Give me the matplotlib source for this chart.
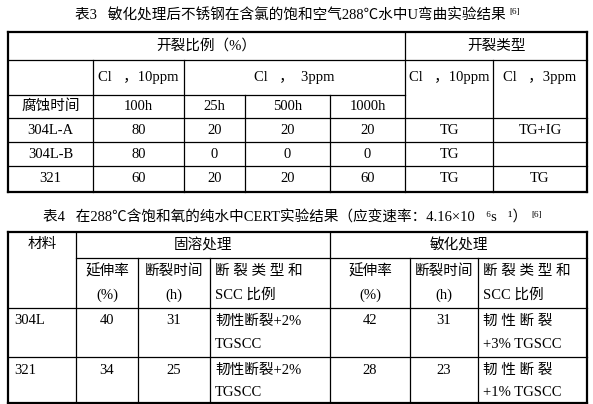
import matplotlib.pyplot as plt

FAM = ['Liberation Serif', 'Noto Sans CJK SC']

# table 3 data
t3_title = '表3   敏化处理后不锈钢在含氯的饱和空气288℃水中U弯曲实验结果'
t3_times = ['100h', '25h', '500h', '1000h']
t3_materials = ['304L-A', '304L-B', '321']
t3_ratio = [['80', '20', '20', '20'], ['80', '0', '0', '0'], ['60', '20', '20', '60']]
t3_type = [['TG', 'TG+IG'], ['TG', ''], ['TG', 'TG']]

# table 4 data
t4_title = '表4   在288℃含饱和氧的纯水中CERT实验结果（应变速率：4.16×10⁻⁶s⁻¹）'
t4_materials = ['304L', '321']
t4_elong = [['40', '42'], ['34', '28']]
t4_time = [['31', '31'], ['25', '23']]
t4_type = [[('韧性断裂+2%', 'TGSCC'), ('韧 性 断 裂', '+3% TGSCC')],
           [('韧性断裂+2%', 'TGSCC'), ('韧 性 断 裂', '+1% TGSCC')]]

fig = plt.figure(figsize=(5.93, 4.04), dpi=100)
ax = fig.add_axes([0, 0, 1, 1])
ax.set_xlim(0, 593)
ax.set_ylim(404, 0)
ax.axis('off')


def hline(y, x0, x1, lw=0.9):
    ax.plot([x0, x1], [y, y], color='black', lw=lw)


def vline(x, y0, y1, lw=0.9):
    ax.plot([x, x], [y0, y1], color='black', lw=lw)


def txt(x, y, s, size=10.5, ha='center'):
    return ax.text(x, y, s, ha=ha, va='center', fontsize=size, family=FAM)


def title(x, y, s):
    t = txt(x, y, s, size=10.5)
    ax.annotate('[6]', xy=(1, 1), xycoords=t, xytext=(3, 0), textcoords='offset points',
                ha='left', va='top', fontsize=6.5, family=FAM)


# ---- table 3 ----
title(290, 15, t3_title)
L, R = 8, 587
rows3 = [32, 60, 95, 118, 142, 166, 192]
cols3 = [8, 93, 184, 245, 330, 405, 493, 587]
hline(rows3[0], L, R, 1.6)
hline(rows3[-1], L, R, 1.6)
hline(rows3[1], L, R)
hline(rows3[2], L, cols3[5])
for y in rows3[3:-1]:
    hline(y, L, R)
vline(L, rows3[0], rows3[-1], 1.6)
vline(R, rows3[0], rows3[-1], 1.6)
vline(cols3[5], rows3[0], rows3[-1])
for x in [cols3[1], cols3[2]]:
    vline(x, rows3[1], rows3[-1])
for x in [cols3[3], cols3[4]]:
    vline(x, rows3[2], rows3[-1])
vline(cols3[6], rows3[1], rows3[-1])

txt((cols3[0] + cols3[5]) / 2, 46, '开裂比例（%）')
txt((cols3[5] + R) / 2, 46, '开裂类型')
txt((cols3[1] + cols3[2]) / 2, 78, 'Cl⁻，10ppm')
txt((cols3[2] + cols3[5]) / 2, 78, 'Cl⁻，  3ppm')
txt((cols3[5] + cols3[6]) / 2, 78, 'Cl⁻，10ppm')
txt((cols3[6] + R) / 2, 78, 'Cl⁻，3ppm')
txt((cols3[0] + cols3[1]) / 2, 106, '腐蚀时间')
for i, t in enumerate(t3_times):
    txt((cols3[i + 1] + cols3[i + 2]) / 2, 106, t)
for r, m in enumerate(t3_materials):
    yc = (rows3[r + 3] + rows3[r + 4]) / 2
    txt((cols3[0] + cols3[1]) / 2, yc, m)
    for i, v in enumerate(t3_ratio[r]):
        txt((cols3[i + 1] + cols3[i + 2]) / 2, yc, v)
    for i, v in enumerate(t3_type[r]):
        txt((cols3[i + 5] + cols3[i + 6]) / 2, yc, v)

# ---- table 4 ----
title(285, 218, t4_title)
rows4 = [232, 258, 308, 357, 403]
cols4 = [8, 76, 138, 210, 330, 410, 478, 587]
hline(rows4[0], L, R, 1.6)
hline(rows4[-1], L, R, 1.6)
hline(rows4[1], cols4[1], R)
hline(rows4[2], L, R)
hline(rows4[3], L, R)
vline(L, rows4[0], rows4[-1], 1.6)
vline(R, rows4[0], rows4[-1], 1.6)
vline(cols4[1], rows4[0], rows4[-1])
vline(cols4[4], rows4[0], rows4[-1])
for x in [cols4[2], cols4[3], cols4[5], cols4[6]]:
    vline(x, rows4[1], rows4[-1])

txt(42, 244, '材料')
txt((cols4[1] + cols4[4]) / 2, 245, '固溶处理')
txt((cols4[4] + R) / 2, 245, '敏化处理')
sub = [('延伸率', '(%)'), ('断裂时间', '(h)'), ('断 裂 类 型 和', 'SCC 比例')]
for k in range(2):
    for j, (a, b) in enumerate(sub):
        x0 = cols4[1 + 3 * k + j]
        x1 = cols4[2 + 3 * k + j]
        if j == 2:
            txt(x0 + 5, 271, a, ha='left')
            txt(x0 + 5, 295, b, ha='left')
        else:
            txt((x0 + x1) / 2, 271, a)
            txt((x0 + x1) / 2, 295, b)
for r, m in enumerate(t4_materials):
    y0 = rows4[r + 2]
    txt(14, y0 + 13, m, ha='left')
    for k in range(2):
        txt((cols4[1 + 3 * k] + cols4[2 + 3 * k]) / 2, y0 + 13, t4_elong[r][k])
        txt((cols4[2 + 3 * k] + cols4[3 + 3 * k]) / 2, y0 + 13, t4_time[r][k])
        a, b = t4_type[r][k]
        txt(cols4[3 + 3 * k] + 5, y0 + 13, a, ha='left')
        txt(cols4[3 + 3 * k] + 5, y0 + 36, b, ha='left')

fig.savefig('out.png', dpi=100, facecolor='white')
